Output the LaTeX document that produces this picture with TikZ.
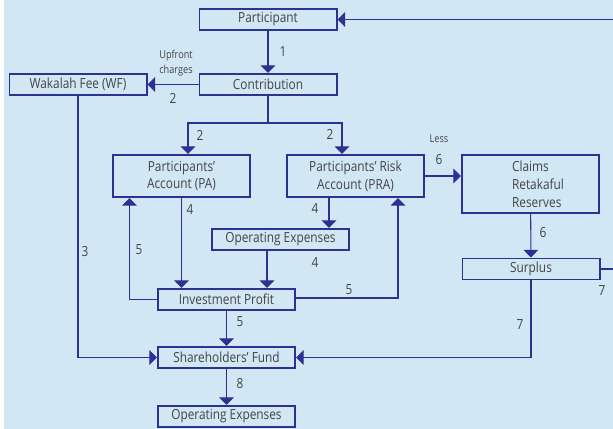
\documentclass[tikz,border=0pt]{standalone}
\usepackage{fontspec}
\setmainfont{Open Sans}[FakeStretch=0.85]
\usetikzlibrary{arrows.meta,calc}

\definecolor{bgblue}{HTML}{D1E7F4}
\definecolor{navy}{HTML}{2E3192}
\definecolor{txtgray}{HTML}{444444}

\tikzstyle{pxfig}=[x=0.03cm,y=-0.03cm]
\tikzstyle{box}=[draw=navy,line width=1.7pt,minimum width=4.11cm,minimum height=0.63cm,inner sep=1pt,text=txtgray,font=\fontsize{11.9}{15.3}\selectfont,align=center]
\tikzstyle{link}=[draw=navy,line width=0.9pt]
\tikzstyle{flow}=[link,-{Triangle[width=12.5pt,length=6.5pt]}]
\tikzstyle{num}=[text=txtgray,inner sep=0pt,font=\fontsize{11.9}{14}\selectfont]
\tikzstyle{note}=[text=txtgray,inner sep=0pt,align=center,font=\fontsize{9.2}{12.5}\selectfont]

\begin{document}
\begin{tikzpicture}[style=pxfig]
\useasboundingbox (0,0) rectangle (613,429);
\clip (0,0) rectangle (613,429);
\fill [white] (0,0) rectangle (613,429);
\fill [bgblue] (4,0) rectangle (613,429);

% boxes
\node[box] (part) at (268,19.5) {Participant};
\node[box] (contrib) at (268,84.5) {Contribution};
\node[box] (wf) at (78,84.5) {Wakalah Fee (WF)};
\node[box,minimum height=1.26cm] (pa) at (181.5,176) {Participants'\\Account (PA)};
\node[box,minimum height=1.26cm] (pra) at (355.5,176) {Participants' Risk\\Account (PRA)};
\node[box,minimum height=1.74cm,align=left] (claims) at (530.5,184)
  {\hspace*{0.45cm}Claims\\\hspace*{0.45cm}Retakaful\\\hspace*{0.45cm}Reserves};
\node[box] (opx) at (280.5,239.5) {Operating Expenses};
\node[box] (surplus) at (531,269) {Surplus};
\node[box] (inv) at (226.5,299.5) {Investment Profit};
\node[box] (share) at (226.5,357.5) {Shareholders' Fund};
\node[box] (opx2) at (226.5,416.5) {Operating Expenses};

% connectors
\coordinate (split) at (268,123);
\draw[flow] (part) -- (contrib);
\draw[flow] (contrib) -- (wf);
\draw[link] (contrib.south) -- (split);
\draw[flow] (split) -| ($(pa.north)+(6.5,0)$);
\draw[flow] (split) -| ($(pra.north)+(-13.5,0)$);
\draw[flow] (pra.east) -- (pra.east -| claims.west);
\draw[flow] (claims) -- (surplus);
\draw[flow] (surplus.east) -- ++(30,0) |- (part.east);
\draw[flow] (surplus.south) |- (share.east);
\draw[flow] ($(pra.south)+(-26.5,0)$) coordinate (praout) -- (praout |- opx.north);
\draw[flow] ($(opx.south)+(-13.5,0)$) coordinate (opxout) -- (opxout |- inv.north);
\draw[flow] (pa.south) -- (pa.south |- inv.north);
\draw[flow] (inv.west) -| ($(pa.south)+(-52,0)$);
\draw[flow] ($(inv.east)+(0,-1.5)$) -| ($(pra.south)+(42.5,0)$);
\draw[flow] (inv) -- (share);
\draw[flow] (wf.south) |- (share.west);
\draw[flow] (share) -- (opx2);

% labels
\node[num] (n1) at (283,52) {1};
\node[note] (upfront) at (176,63) {Upfront\\charges};
\node[num] (n2a) at (173,98) {2};
\node[num] (n2b) at (200,135) {2};
\node[num] (n2c) at (330,134) {2};
\node[note] (less) at (439,139) {Less};
\node[num] (n6a) at (439,160) {6};
\node[num] (n4a) at (190,209) {4};
\node[num] (n4b) at (315,208) {4};
\node[num] (n5a) at (139,250) {5};
\node[num] (n3) at (85,252) {3};
\node[num] (n4c) at (315,262) {4};
\node[num] (n6b) at (543,233) {6};
\node[num] (n7a) at (602,291) {7};
\node[num] (n5b) at (349,290) {5};
\node[num] (n5c) at (240,322) {5};
\node[num] (n7b) at (520,325) {7};
\node[num] (n8) at (240,384) {8};
\end{tikzpicture}
\end{document}
